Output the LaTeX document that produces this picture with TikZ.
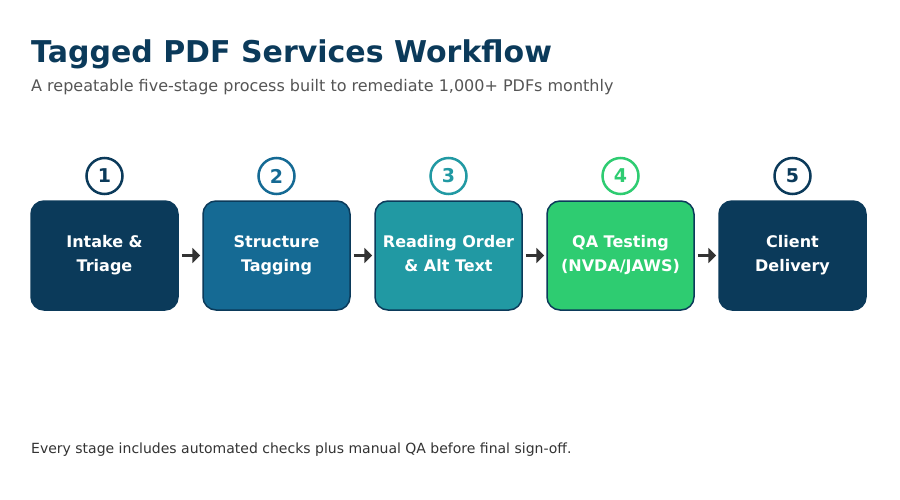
\documentclass[tikz,border=0pt]{standalone}
\usepackage{fontspec}
\setmainfont{DejaVu Sans}
\usetikzlibrary{arrows.meta}
\definecolor{navy}{HTML}{0B3A5A}
\definecolor{steel}{HTML}{156A94}
\definecolor{teal}{HTML}{2199A3}
\definecolor{mint}{HTML}{2ECC71}
\definecolor{subgrey}{HTML}{555555}
\definecolor{footgrey}{HTML}{333333}
\definecolor{arrowgrey}{HTML}{333333}
\newcommand{\lnstrut}{\rule[-8pt]{0pt}{24pt}}
\begin{document}
\begin{tikzpicture}[x=1pt,y=-1pt,
  stagebox/.style={draw=navy,line width=1.5pt,rounded corners=13pt,minimum width=147pt,minimum height=109pt,
    inner sep=0pt,align=center,text=white,font=\fontsize{16}{24}\selectfont\bfseries},
  numcircle/.style={circle,draw=#1,line width=2.5pt,fill=white,minimum size=36pt,inner sep=0pt,
    text=#1,font=\fontsize{19}{20}\selectfont\bfseries},
  flowarrow/.style={draw=arrowgrey,line width=3.5pt,-{Triangle[length=8pt,width=15pt]}}
]
\useasboundingbox[fill=white] (0,0) rectangle (900,500);
\node[anchor=base west,text=navy,font=\fontsize{30}{34}\selectfont\bfseries,inner sep=0pt] (title) at (31,63) {Tagged PDF Services Workflow};
\node[anchor=base west,text=subgrey,font=\fontsize{16}{18}\selectfont,inner sep=0pt] (subtitle) at (31,92) {A repeatable five-stage process built to remediate 1,000+ PDFs monthly};
\node[anchor=base west,text=footgrey,font=\fontsize{14}{16}\selectfont,inner sep=0pt] (footer) at (31,453) {Every stage includes automated checks plus manual QA before final sign-off.};

\node[stagebox,fill=navy] (s1) at (104.5,255.5) {Intake \&\lnstrut\\Triage\lnstrut};
\node[stagebox,fill=steel] (s2) at (276.5,255.5) {Structure\lnstrut\\Tagging\lnstrut};
\node[stagebox,fill=teal] (s3) at (448.5,255.5) {Reading Order\lnstrut\\\& Alt Text\lnstrut};
\node[stagebox,fill=mint] (s4) at (620.5,255.5) {QA Testing\lnstrut\\(NVDA/JAWS)\lnstrut};
\node[stagebox,fill=navy] (s5) at (792.5,255.5) {Client\lnstrut\\Delivery\lnstrut};

\node[numcircle=navy] (n1) at (104.5,176) {1};
\node[numcircle=steel] (n2) at (276.5,176) {2};
\node[numcircle=teal] (n3) at (448.5,176) {3};
\node[numcircle=mint] (n4) at (620.5,176) {4};
\node[numcircle=navy] (n5) at (792.5,176) {5};

\draw[flowarrow] ([xshift=3pt]s1.east) -- ([xshift=-2pt]s2.west);
\draw[flowarrow] ([xshift=3pt]s2.east) -- ([xshift=-2pt]s3.west);
\draw[flowarrow] ([xshift=3pt]s3.east) -- ([xshift=-2pt]s4.west);
\draw[flowarrow] ([xshift=3pt]s4.east) -- ([xshift=-2pt]s5.west);
\end{tikzpicture}
\end{document}
